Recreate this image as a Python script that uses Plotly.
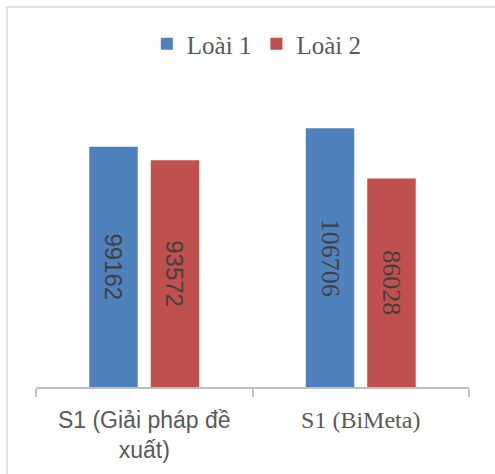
import plotly.graph_objects as go

# Categories, series and labels
categories = ["S1 (Giải pháp đề xuất)", "S1 (BiMeta)"]
tick_labels = [
    "S1 (Giải pháp đề<br>xuất)",
    '<span style="font-family:Liberation Serif;font-size:24px">S1 (BiMeta)</span>',
]
series_names = ["Loài 1", "Loài 2"]
loai1 = [99162, 106706]
loai2 = [93572, 86028]

colors = ["#4F81BD", "#C0504D"]
# value labels: sans for the first group, serif for the second
value_families = ["Liberation Sans, Arial, sans-serif", "Liberation Serif, Times New Roman, serif"]
value_sizes = [24, 26]

fig = go.Figure()
for name, vals, col in zip(series_names, [loai1, loai2], colors):
    fig.add_trace(go.Bar(
        x=categories,
        y=vals,
        name=name,
        marker=dict(color=col, line=dict(width=0)),
        text=[str(v) for v in vals],
        textposition="inside",
        insidetextanchor="middle",
        textangle=90,
        insidetextfont=dict(family=value_families, size=value_sizes,
                            color=["#404040", "#404040"]),
        constraintext="none",
    ))

fig.update_layout(
    width=495,
    height=474,
    margin=dict(l=36, r=26, t=100, b=87),
    paper_bgcolor="white",
    plot_bgcolor="white",
    barmode="group",
    bargap=0.432,
    bargroupgap=0.211,
    showlegend=True,
    legend=dict(
        orientation="h",
        x=0.51, xanchor="center",
        y=1.195, yanchor="middle",
        font=dict(family="Liberation Serif", size=25, color="#595959"),
        bgcolor="rgba(0,0,0,0)",
        traceorder="normal",
    ),
    xaxis=dict(
        type="category",
        tickmode="array",
        tickvals=categories,
        ticktext=tick_labels,
        tickson="boundaries",
        ticks="outside",
        ticklen=8,
        tickcolor="#BFBFBF",
        tickwidth=1.5,
        showline=True,
        linecolor="#BFBFBF",
        linewidth=1.5,
        showgrid=False,
        ticklabelstandoff=12,
        tickfont=dict(family="Liberation Sans", size=23, color="#595959"),
        fixedrange=True,
    ),
    yaxis=dict(
        range=[0, 118400],
        visible=False,
        showgrid=False,
        zeroline=False,
        fixedrange=True,
    ),
    shapes=[
        # outer chart frame, running off the right and bottom edges
        dict(type="rect", xref="paper", yref="paper",
             x0=-0.067, x1=1.3, y0=-0.6, y1=1.324,
             line=dict(color="#D9D9D9", width=1.5), fillcolor="rgba(0,0,0,0)",
             layer="below"),
    ],
)

fig.write_html("out.html")
